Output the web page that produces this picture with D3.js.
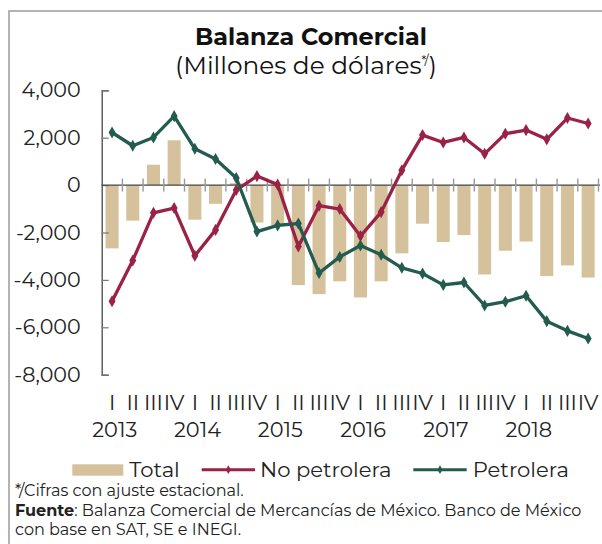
<!DOCTYPE html>
<html>
<head>
<meta charset="utf-8">
<script src="https://cdn.jsdelivr.net/npm/d3@7"></script>
<style>
  html, body { margin: 0; padding: 0; background: #fff; }
  svg { display: block; }
  text { font-family: "Montserrat", "Inter", "Noto Sans", sans-serif; }
</style>
</head>
<body>
<svg id="chart" width="602" height="544"></svg>
<script>
// ---- data ----
const quarters = ["I","II","III","IV","I","II","III","IV","I","II","III","IV",
                  "I","II","III","IV","I","II","III","IV","I","II","III","IV"];
const years = ["2013","2014","2015","2016","2017","2018"];
const total = [-2670, -1500, 860, 1890, -1460, -790, 80, -1580, -1690, -4220, -4600, -4060,
               -4740, -4060, -2880, -1630, -2400, -2110, -3770, -2770, -2380, -3840, -3390, -3900];
const noPetrolera = [-4900, -3180, -1170, -970, -2980, -1890, -210, 380, 20, -2590, -870, -1010,
                     -2150, -1140, 630, 2110, 1800, 2010, 1320, 2170, 2320, 1930, 2830, 2600];
const petrolera = [2220, 1660, 2010, 2910, 1530, 1100, 300, -1960, -1700, -1620, -3710, -3030,
                   -2550, -2940, -3490, -3730, -4210, -4110, -5080, -4920, -4670, -5740, -6150, -6470];
const yTicks = [4000, 2000, 0, -2000, -4000, -6000, -8000];
const yTickLabels = ["4,000", "2,000", "0", "-2,000", "-4,000", "-6,000", "-8,000"];
const seriesNames = ["Total", "No petrolera", "Petrolera"];
const titleText = "Balanza Comercial";
const subtitleText = "(Millones de dólares";
const footnotes = ["*/Cifras con ajuste estacional.",
                   "Balanza Comercial de Mercancías de México. Banco de México",
                   "con base en SAT, SE e INEGI."];

const colTotal = "#D5C29C", colNo = "#9B2247", colPet = "#235B4E";

const svg = d3.select("#chart");

// frame
svg.append("rect").attr("x", 9).attr("y", 11).attr("width", 700).attr("height", 600)
  .attr("fill", "none").attr("stroke", "#9a9a9a").attr("stroke-width", 1.5);

const idx = d3.range(quarters.length);
const x = d3.scaleBand().domain(idx).range([101.7, 598.5]).paddingInner(0.37).paddingOuter(0.185);
const y = d3.scaleLinear().domain([-8000, 4000]).range([374.7, 90.3]);

function fitWidth(sel, target) {
  const w = sel.node().getComputedTextLength();
  const fs = parseFloat(sel.attr("font-size"));
  const nfs = fs * target / w;
  sel.attr("font-size", nfs);
  return nfs / fs;
}

// bars
svg.append("g").selectAll("rect").data(total).join("rect")
  .attr("x", (d, i) => x(i))
  .attr("width", x.bandwidth())
  .attr("y", d => y(Math.max(0, d)))
  .attr("height", d => Math.abs(y(d) - y(0)))
  .attr("fill", colTotal);

// y axis
const yAxis = svg.append("g").attr("transform", `translate(${x.range()[0]},0)`)
  .call(d3.axisLeft(y).tickValues(yTicks).tickSize(-7).tickPadding(21)
    .tickFormat((d, i) => yTickLabels[i]));
yAxis.select(".domain").attr("stroke", "#555").attr("stroke-width", 1.4);
yAxis.selectAll(".tick line").attr("stroke", "#777").attr("stroke-width", 1.2);
const yLabels = yAxis.selectAll(".tick text").attr("font-size", 20).attr("fill", "#222")
  .style("font-family", '"Montserrat", "Inter", "Noto Sans", sans-serif');
{
  const first = yAxis.select(".tick text");
  const k = fitWidth(first, 59.3);
  yLabels.attr("font-size", 20 * k);
}

// zero line and category ticks
const zeroG = svg.append("g");
zeroG.append("line").attr("x1", x.range()[0]).attr("x2", 600)
  .attr("y1", y(0)).attr("y2", y(0)).attr("stroke", "#444").attr("stroke-width", 1.4);
const bounds = d3.range(1, quarters.length + 1).map(i => x.range()[0] + i * x.step());
zeroG.selectAll("line.tk").data(bounds).join("line").attr("class", "tk")
  .attr("x1", d => d).attr("x2", d => d)
  .attr("y1", y(0) - 6.5).attr("y2", y(0) + 6.5)
  .attr("stroke", "#999").attr("stroke-width", 1.4);

// lines
const line = d3.line().x((d, i) => x(i) + x.bandwidth() / 2).y(d => y(d));
const diamond = d3.symbol().type(d3.symbolDiamond).size(42);
function drawSeries(data, color) {
  svg.append("path").datum(data).attr("d", line).attr("fill", "none")
    .attr("stroke", color).attr("stroke-width", 3.3).attr("stroke-linejoin", "round");
  svg.append("g").selectAll("path").data(data).join("path")
    .attr("d", diamond)
    .attr("transform", (d, i) => `translate(${x(i) + x.bandwidth() / 2},${y(d)})`)
    .attr("fill", color);
}
drawSeries(noPetrolera, colNo);
drawSeries(petrolera, colPet);

// x labels
const qG = svg.append("g");
qG.selectAll("text").data(quarters).join("text")
  .attr("x", (d, i) => x(i) + x.bandwidth() / 2)
  .attr("y", 410)
  .attr("text-anchor", "middle").attr("font-size", 21).attr("fill", "#222")
  .text(d => d);
const yrG = svg.append("g");
const yrText = yrG.selectAll("text").data(years).join("text")
  .attr("x", (d, i) => x(i * 4) + x.bandwidth() / 2 + 2.7)
  .attr("y", 437)
  .attr("text-anchor", "middle").attr("font-size", 20).attr("fill", "#222")
  .text(d => d);
{
  const k = fitWidth(yrG.select("text"), 45);
  yrText.attr("font-size", 20 * k);
}

// title
const t1 = svg.append("text").attr("x", 311).attr("y", 45).attr("text-anchor", "middle")
  .attr("font-size", 26).attr("font-weight", "bold").attr("fill", "#111").text(titleText);
fitWidth(t1, 232);
const t2 = svg.append("text").attr("x", 306).attr("y", 73.5).attr("text-anchor", "middle")
  .attr("font-size", 24).attr("fill", "#111");
t2.append("tspan").text(subtitleText);
t2.append("tspan").attr("font-size", 12).attr("dy", -9).text("*/");
t2.append("tspan").attr("dy", 9).text(")");
{
  const w = t2.node().getComputedTextLength();
  const k = 262 / w;
  t2.attr("font-size", 24 * k);
  t2.selectAll("tspan").filter((d, i) => i === 1).attr("font-size", 12 * k);
}

// legend
const lg = svg.append("g");
lg.append("rect").attr("x", 72.3).attr("y", 464.3).attr("width", 51).attr("height", 11.4).attr("fill", colTotal);
const lt1 = lg.append("text").attr("x", 129.3).attr("y", 476.7).attr("font-size", 21).attr("fill", "#222").text(seriesNames[0]);
const lt2 = lg.append("text").attr("x", 260).attr("y", 476.7).attr("font-size", 21).attr("fill", "#222").text(seriesNames[1]);
const lt3 = lg.append("text").attr("x", 472.7).attr("y", 476.7).attr("font-size", 21).attr("fill", "#222").text(seriesNames[2]);
{
  const k = fitWidth(lt2, 131.7);
  lt1.attr("font-size", 21 * k); lt3.attr("font-size", 21 * k);
}
const smallDiamond = d3.symbol().type(d3.symbolDiamond).size(22);
[[201.7, 255, colNo], [413.3, 466.7, colPet]].forEach(([a, b, c]) => {
  lg.append("line").attr("x1", a).attr("x2", b).attr("y1", 469.7).attr("y2", 469.7)
    .attr("stroke", c).attr("stroke-width", 3);
  lg.append("path").attr("d", smallDiamond).attr("transform", `translate(${(a + b) / 2},469.7)`).attr("fill", c);
});

// footnotes
const fg = svg.append("g").attr("fill", "#222");
const f1 = fg.append("text").attr("x", 15).attr("y", 496).attr("font-size", 16).text(footnotes[0]);
const f2 = fg.append("text").attr("x", 15).attr("y", 515.5).attr("font-size", 16);
f2.append("tspan").attr("font-weight", "bold").text("Fuente");
f2.append("tspan").text(": " + footnotes[1]);
const f3 = fg.append("text").attr("x", 15).attr("y", 535).attr("font-size", 16).text(footnotes[2]);
{
  const k = fitWidth(f2, 566.7);
  f1.attr("font-size", 16 * k); f3.attr("font-size", 16 * k);
}
</script>
</body>
</html>
